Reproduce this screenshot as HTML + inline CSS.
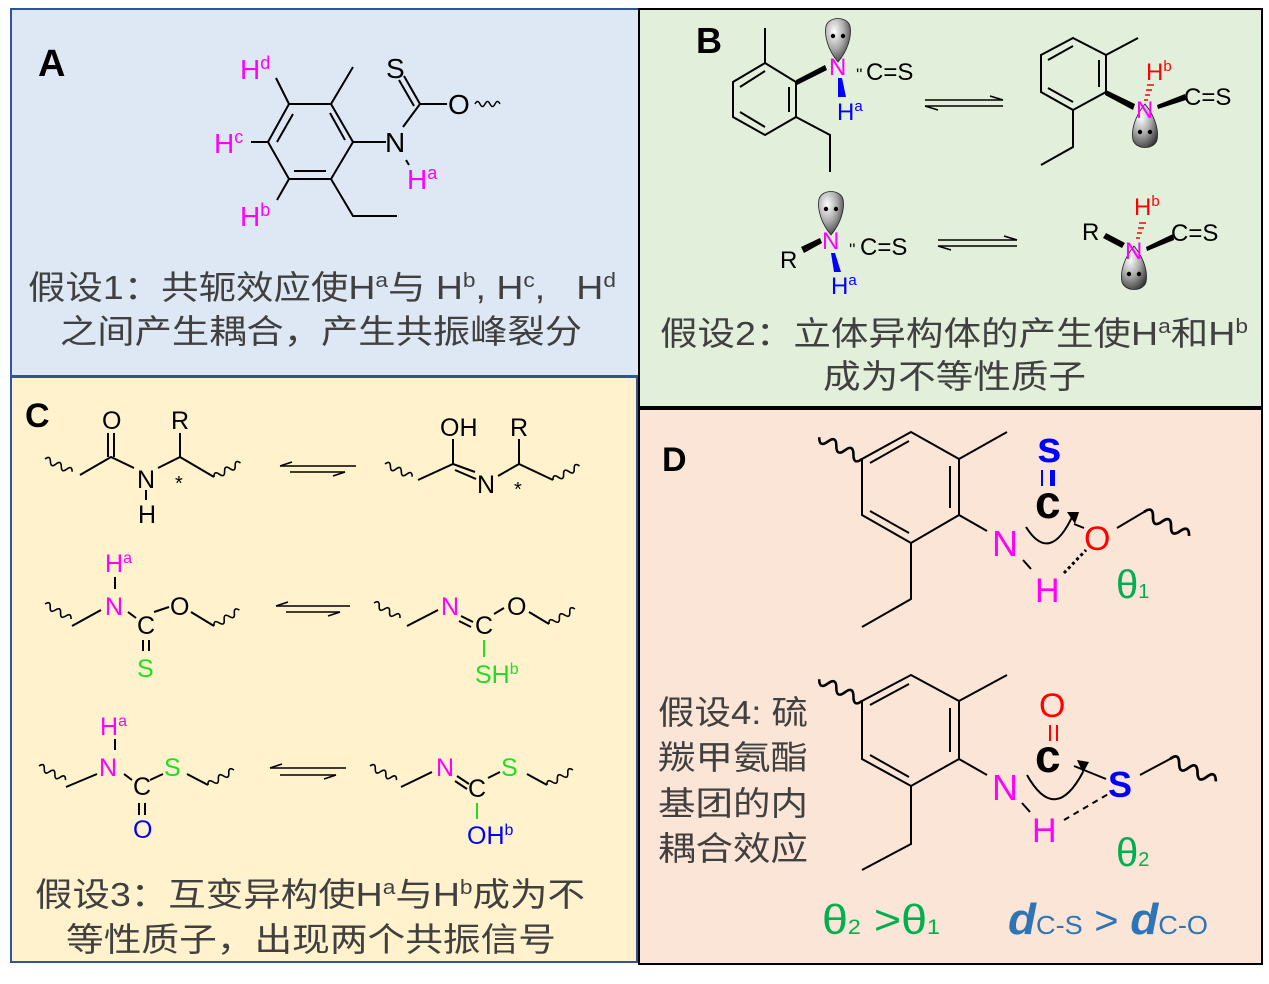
<!DOCTYPE html>
<html><head><meta charset="utf-8"><style>
html,body{margin:0;padding:0;background:#fff;}
svg{display:block;font-family:"Liberation Sans","Noto Sans CJK SC",sans-serif;}
.b{stroke:#000;stroke-width:2;fill:none;}
.t{fill:#404040;font-size:33px;}
</style></head><body>
<svg width="1269" height="984" viewBox="0 0 1269 984" xmlns="http://www.w3.org/2000/svg">
<defs>
<radialGradient id="lg" cx="0.35" cy="0.3" r="0.8">
<stop offset="0" stop-color="#fff"/><stop offset="0.5" stop-color="#aaa"/><stop offset="1" stop-color="#333"/>
</radialGradient>
<g id="lobeU"><path d="M0,0 C-10,-12 -14,-26 -12,-36 C-9,-46 9,-46 12,-36 C14,-26 10,-12 0,0Z" fill="url(#lg)" stroke="#222" stroke-width="0.8"/><circle cx="-5" cy="-26" r="2.2" fill="#000"/><circle cx="5" cy="-26" r="2.2" fill="#000"/></g>
<g id="lobeD"><path d="M0,0 C-10,12 -14,26 -12,36 C-9,46 9,46 12,36 C14,26 10,12 0,0Z" fill="url(#lg)" stroke="#222" stroke-width="0.8"/><circle cx="-5" cy="28" r="2.2" fill="#000"/><circle cx="5" cy="28" r="2.2" fill="#000"/></g>
<path id="wv" d="M0,0 q3,-6 6,0 t6,0 t6,0 t6,0 t6,0" fill="none" stroke="#000" stroke-width="1.6"/>
</defs>

<rect x="11" y="9" width="629" height="367" fill="#dee8f4" stroke="#2f5597" stroke-width="2"/>
<rect x="639" y="9" width="623" height="398" fill="#e2efda" stroke="#000" stroke-width="2"/>
<rect x="11" y="377" width="626" height="585" fill="#fff2cc" stroke="#2f5597" stroke-width="2"/>
<rect x="639" y="409" width="623" height="555" fill="#fbe5d6" stroke="#000" stroke-width="2"/>

<!-- ===== A ===== -->
<text x="38" y="76" font-size="38" font-weight="bold">A</text>
<g class="b">
<polygon points="289,104 331,104 353,142 331,179 289,179 268,142"/>
<line x1="330" y1="113" x2="345" y2="140"/>
<line x1="294" y1="171" x2="326" y2="171"/>
<line x1="277" y1="142" x2="293" y2="114"/>
<line x1="331" y1="104" x2="353" y2="67"/>
<line x1="289" y1="104" x2="276" y2="78"/>
<line x1="268" y1="142" x2="251" y2="142"/>
<line x1="289" y1="179" x2="277" y2="200"/>
<polyline points="331,179 353,216 397,216"/>
<line x1="353" y1="142" x2="386" y2="142"/>
<line x1="403" y1="127" x2="420" y2="104"/>
<line x1="420" y1="104" x2="404" y2="76"/>
<line x1="414" y1="106" x2="399" y2="80"/>
<line x1="420" y1="104" x2="447" y2="104"/>
<line x1="406" y1="160" x2="409" y2="165"/>
</g>
<g font-size="28" fill="#ff00ff">
<text x="240" y="79">H<tspan font-size="18" dy="-10">d</tspan></text>
<text x="214" y="153">H<tspan font-size="18" dy="-10">c</tspan></text>
<text x="240" y="226">H<tspan font-size="18" dy="-10">b</tspan></text>
<text x="407" y="189">H<tspan font-size="18" dy="-10">a</tspan></text>
</g>
<g font-size="28" fill="#000">
<text x="385" y="152">N</text>
<text x="386" y="78">S</text>
<text x="448" y="114">O</text>
</g>
<path d="M475,104 q2.5,-5 5,0 t5,0 t5,0 t5,0 t5,0" fill="none" stroke="#000" stroke-width="1.4"/>
<text class="t" x="28" y="299" textLength="588" lengthAdjust="spacingAndGlyphs">假设1：共轭效应使H<tspan font-size="20" dy="-12">a</tspan><tspan dy="12">与 H</tspan><tspan font-size="20" dy="-12">b</tspan><tspan dy="12">, H</tspan><tspan font-size="20" dy="-12">c</tspan><tspan dy="12">,&#160;&#160;&#160;H</tspan><tspan font-size="20" dy="-12">d</tspan></text>
<text class="t" x="60" y="343" textLength="522" lengthAdjust="spacingAndGlyphs">之间产生耦合，产生共振峰裂分</text>

<!-- ===== B ===== -->
<text x="696" y="53" font-size="36" font-weight="bold">B</text>
<g class="b" stroke-width="1.8">
<polygon points="765,63 796,82 796,117 765,135 733,117 733,82"/>
<line x1="789" y1="87" x2="789" y2="112"/>
<line x1="765" y1="127" x2="740" y2="112"/>
<line x1="740" y1="87" x2="765" y2="71"/>
<line x1="765" y1="63" x2="765" y2="28"/>
<polyline points="796,117 830,135 830,172"/>
<polygon points="1073,38 1106,55 1106,92 1073,110 1041,92 1041,55"/>
<line x1="1099" y1="60" x2="1099" y2="87"/>
<line x1="1048" y1="60" x2="1073" y2="46"/>
<line x1="1048" y1="88" x2="1073" y2="102"/>
<line x1="1106" y1="55" x2="1138" y2="38"/>
<polyline points="1073,110 1073,147 1041,165"/>
</g>
<polygon points="796,80 797,85 827,70 825,65" fill="#000"/>
<polygon points="1106,90 1105,95 1133,110 1135,104" fill="#000"/>
<g stroke="#000" stroke-width="1.6" fill="none">
<line x1="925" y1="100" x2="1003" y2="100"/><path d="M990,96 L1003,100"/>
<line x1="925" y1="106" x2="1003" y2="106"/><path d="M925,106 L938,110"/>
<line x1="938" y1="240" x2="1017" y2="240"/><path d="M1004,236 L1017,240"/>
<line x1="938" y1="246" x2="1017" y2="246"/><path d="M938,246 L951,250"/>
</g>
<use href="#lobeU" x="838" y="62"/>
<text x="829" y="75" font-size="24" fill="#ff00ff">N</text>
<text x="856" y="80" font-size="17" fill="#000">''</text>
<text x="866" y="80" font-size="24" fill="#000">C=S</text>
<polygon points="838,78 842,78 846,97 838,97" fill="#0000ff"/>
<text x="837" y="120" font-size="24" fill="#0000ff">H<tspan font-size="15" dy="-9">a</tspan></text>
<use href="#lobeD" x="1145" y="104"/>
<text x="1136" y="118" font-size="24" fill="#ff00ff">N</text>
<g stroke="#ff0000" stroke-width="1.5"><line x1="1144" y1="100" x2="1148" y2="100"/><line x1="1145" y1="95" x2="1150" y2="95"/><line x1="1146" y1="90" x2="1152" y2="90"/><line x1="1147" y1="85" x2="1154" y2="85"/></g>
<text x="1146" y="80" font-size="24" fill="#ff0000">H<tspan font-size="15" dy="-9">b</tspan></text>
<polygon points="1157,105 1185,94 1186,100 1158,109" fill="#000"/>
<text x="1184" y="105" font-size="24" fill="#000">C=S</text>
<use href="#lobeU" x="831" y="235"/>
<text x="822" y="249" font-size="24" fill="#ff00ff">N</text>
<text x="849" y="255" font-size="17" fill="#000">''</text>
<text x="860" y="255" font-size="24" fill="#000">C=S</text>
<polygon points="801,247 804,253 822,243 820,238" fill="#000"/>
<text x="780" y="268" font-size="24" fill="#000">R</text>
<polygon points="831,253 835,253 841,272 834,272" fill="#0000ff"/>
<text x="831" y="294" font-size="24" fill="#0000ff">H<tspan font-size="15" dy="-9">a</tspan></text>
<use href="#lobeD" x="1134" y="246"/>
<text x="1125" y="259" font-size="24" fill="#ff00ff">N</text>
<polygon points="1103,238 1106,233 1125,243 1122,248" fill="#000"/>
<text x="1082" y="240" font-size="24" fill="#000">R</text>
<g stroke="#ff0000" stroke-width="1.5"><line x1="1136" y1="238" x2="1140" y2="238"/><line x1="1137" y1="233" x2="1142" y2="233"/><line x1="1138" y1="228" x2="1144" y2="228"/><line x1="1139" y1="223" x2="1146" y2="223"/></g>
<text x="1134" y="215" font-size="24" fill="#ff0000">H<tspan font-size="15" dy="-9">b</tspan></text>
<polygon points="1146,247 1173,234 1174,240 1147,251" fill="#000"/>
<text x="1171" y="241" font-size="24" fill="#000">C=S</text>
<text class="t" x="660" y="345" textLength="588" lengthAdjust="spacingAndGlyphs">假设2：立体异构体的产生使H<tspan font-size="20" dy="-12">a</tspan><tspan dy="12">和H</tspan><tspan font-size="20" dy="-12">b</tspan></text>
<text class="t" x="823" y="388" textLength="263" lengthAdjust="spacingAndGlyphs">成为不等性质子</text>

<!-- ===== C ===== -->
<text x="25" y="427" font-size="34" font-weight="bold">C</text>
<g class="b" stroke-width="1.6">
<polyline points="80,475 111,457 134,468"/>
<line x1="108" y1="457" x2="108" y2="433"/><line x1="114" y1="457" x2="114" y2="433"/>
<line x1="146" y1="490" x2="146" y2="500"/>
<polyline points="158,468 180,457 214,477"/>
<line x1="180" y1="457" x2="180" y2="433"/>
<polyline points="418,480 453,464 475,472"/>
<line x1="455" y1="470" x2="476" y2="479"/>
<line x1="453" y1="464" x2="453" y2="439"/>
<polyline points="498,476 519,464 553,480"/>
<line x1="519" y1="464" x2="519" y2="439"/>
<line x1="72" y1="626" x2="101" y2="610"/>
<line x1="115" y1="577" x2="115" y2="589"/>
<line x1="128" y1="612" x2="136" y2="618"/>
<line x1="143" y1="640" x2="143" y2="651"/><line x1="149" y1="640" x2="149" y2="651"/>
<line x1="154" y1="612" x2="169" y2="607"/>
<line x1="191" y1="612" x2="214" y2="626"/>
<line x1="407" y1="626" x2="438" y2="610"/>
<line x1="461" y1="616" x2="473" y2="622"/><line x1="459" y1="621" x2="471" y2="627"/>
<line x1="494" y1="614" x2="504" y2="608"/>
<line x1="529" y1="612" x2="549" y2="624"/>
<line x1="484" y1="640" x2="484" y2="657" stroke="#22dd22"/>
<line x1="66" y1="787" x2="97" y2="774"/>
<line x1="115" y1="739" x2="115" y2="750"/>
<line x1="124" y1="774" x2="132" y2="780"/>
<line x1="139" y1="803" x2="139" y2="815"/><line x1="145" y1="803" x2="145" y2="815"/>
<line x1="150" y1="780" x2="163" y2="774"/>
<line x1="187" y1="774" x2="208" y2="785"/>
<line x1="401" y1="787" x2="432" y2="772"/>
<line x1="457" y1="776" x2="469" y2="784"/><line x1="455" y1="781" x2="467" y2="789"/>
<line x1="488" y1="778" x2="500" y2="772"/>
<line x1="527" y1="774" x2="547" y2="785"/>
<line x1="477" y1="803" x2="477" y2="819" stroke="#22dd22"/>
</g>
<g font-size="25" fill="#000">
<text x="102" y="429">O</text><text x="137" y="488">N</text><text x="138" y="523">H</text>
<text x="171" y="429">R</text><text x="175" y="490" font-size="20">*</text>
<text x="440" y="436">OH</text><text x="477" y="493">N</text>
<text x="510" y="436">R</text><text x="514" y="496" font-size="20">*</text>
<text x="137" y="634">C</text><text x="170" y="615">O</text>
<text x="475" y="634">C</text><text x="507" y="615">O</text>
<text x="133" y="795">C</text><text x="468" y="797">C</text>
</g>
<g font-size="25">
<text x="105" y="572" fill="#ff00ff">H<tspan font-size="16" dy="-9">a</tspan></text>
<text x="105" y="615" fill="#ff00ff">N</text>
<text x="137" y="677" fill="#22dd22">S</text>
<text x="441" y="615" fill="#ff00ff">N</text>
<text x="475" y="683" fill="#22dd22">SH<tspan font-size="16" dy="-9">b</tspan></text>
<text x="100" y="735" fill="#ff00ff">H<tspan font-size="16" dy="-9">a</tspan></text>
<text x="99" y="776" fill="#ff00ff">N</text>
<text x="164" y="776" fill="#22dd22">S</text>
<text x="133" y="838" fill="#0000ff">O</text>
<text x="436" y="776" fill="#ff00ff">N</text>
<text x="501" y="776" fill="#22dd22">S</text>
<text x="467" y="844" fill="#0000ff">OH<tspan font-size="16" dy="-9">b</tspan></text>
</g>
<use href="#wv" transform="translate(45,459) rotate(25)"/>
<use href="#wv" transform="translate(214,477) rotate(-28)"/>
<use href="#wv" transform="translate(385,464) rotate(25)"/>
<use href="#wv" transform="translate(553,480) rotate(-28)"/>
<use href="#wv" transform="translate(45,604) rotate(30)"/>
<use href="#wv" transform="translate(214,626) rotate(-32)"/>
<use href="#wv" transform="translate(374,603) rotate(30)"/>
<use href="#wv" transform="translate(549,624) rotate(-30)"/>
<use href="#wv" transform="translate(39,766) rotate(28)"/>
<use href="#wv" transform="translate(208,785) rotate(-30)"/>
<use href="#wv" transform="translate(370,766) rotate(28)"/>
<use href="#wv" transform="translate(547,785) rotate(-30)"/>
<g stroke="#000" stroke-width="1.6" fill="none">
<line x1="280" y1="466" x2="356" y2="466"/><path d="M280,466 L292,462"/>
<line x1="290" y1="472" x2="345" y2="472"/><path d="M345,472 L333,476"/>
<line x1="276" y1="606" x2="350" y2="606"/><path d="M276,606 L288,602"/>
<line x1="286" y1="612" x2="340" y2="612"/><path d="M340,612 L328,616"/>
<line x1="270" y1="768" x2="346" y2="768"/><path d="M270,768 L282,764"/>
<line x1="280" y1="775" x2="336" y2="775"/><path d="M336,775 L324,779"/>
</g>
<text class="t" x="35" y="906" textLength="550" lengthAdjust="spacingAndGlyphs">假设3：互变异构使H<tspan font-size="20" dy="-12">a</tspan><tspan dy="12">与H</tspan><tspan font-size="20" dy="-12">b</tspan><tspan dy="12">成为不</tspan></text>
<text class="t" x="66" y="951" textLength="490" lengthAdjust="spacingAndGlyphs">等性质子，出现两个共振信号</text>

<!-- ===== D ===== -->
<text x="662" y="471" font-size="34" font-weight="bold">D</text>
<g class="b" stroke-width="2.2">
<polygon points="911,432 959,459 959,515 911,543 862,515 862,459"/>
<line x1="950" y1="466" x2="950" y2="508"/>
<line x1="870" y1="463" x2="909" y2="441"/>
<line x1="870" y1="511" x2="909" y2="533"/>
<line x1="959" y1="459" x2="1007" y2="432"/>
<polyline points="911,543 911,599 862,627"/>
<line x1="959" y1="515" x2="987" y2="531"/>
<line x1="1074" y1="524" x2="1084" y2="528"/>
<line x1="1117" y1="528" x2="1144" y2="512"/>
<polygon points="911,675 959,701 959,759 911,786 862,759 862,701"/>
<line x1="950" y1="708" x2="950" y2="752"/>
<line x1="870" y1="705" x2="909" y2="684"/>
<line x1="870" y1="755" x2="909" y2="777"/>
<line x1="959" y1="701" x2="1007" y2="675"/>
<polyline points="911,786 911,844 862,870"/>
<line x1="959" y1="759" x2="987" y2="775"/>
<line x1="1074" y1="766" x2="1106" y2="779"/>
<line x1="1140" y1="775" x2="1170" y2="759"/>
</g>
<use href="#wv" transform="translate(862,459) rotate(-153) scale(1.6)"/>
<use href="#wv" transform="translate(1144,512) rotate(28) scale(1.7)"/>
<use href="#wv" transform="translate(862,701) rotate(-153) scale(1.6)"/>
<use href="#wv" transform="translate(1170,759) rotate(26) scale(1.7)"/>
<g stroke="#000" stroke-width="2" fill="none">
<line x1="1023" y1="560" x2="1031" y2="569"/>
<path d="M1064,573 L1086,550" stroke-dasharray="3,3" stroke-width="3"/>
<path d="M1026,527 Q1050,565 1073,515"/>
<line x1="1022" y1="803" x2="1030" y2="812"/>
<path d="M1064,820 L1110,793" stroke-dasharray="6,5"/>
<path d="M1027,775 Q1055,825 1083,772"/>
</g>
<polygon points="1067,512 1079,512 1075,524" fill="#000"/>
<polygon points="1077,760 1089,762 1083,773" fill="#000"/>
<text x="992" y="556" font-size="36" fill="#ff00ff">N</text>
<text x="1035" y="602" font-size="34" fill="#ff00ff">H</text>
<text x="1037" y="462" font-size="44" font-weight="bold" fill="#0000ff">s</text>
<rect x="1041" y="470" width="2" height="16" fill="#0000ff"/><rect x="1050" y="470" width="5" height="16" fill="#0000ff"/>
<text x="1035" y="518" font-size="46" font-weight="bold" fill="#000">c</text>
<text x="1084" y="550" font-size="34" fill="#ff0000">O</text>
<text x="1116" y="598" font-size="40" fill="#00b050">θ<tspan font-size="20">1</tspan></text>
<text x="992" y="800" font-size="36" fill="#ff00ff">N</text>
<text x="1032" y="842" font-size="34" fill="#ff00ff">H</text>
<text x="1039" y="717" font-size="34" fill="#ff0000">O</text>
<rect x="1049" y="725" width="2" height="16" fill="#ff0000"/><rect x="1056" y="725" width="2" height="16" fill="#ff0000"/>
<text x="1035" y="772" font-size="46" font-weight="bold" fill="#000">c</text>
<text x="1108" y="797" font-size="36" font-weight="bold" fill="#0000ff">S</text>
<text x="1116" y="866" font-size="40" fill="#00b050">θ<tspan font-size="20">2</tspan></text>
<text x="822" y="934" font-size="42" fill="#00b050" textLength="118" lengthAdjust="spacingAndGlyphs">θ<tspan font-size="21">2</tspan><tspan> &gt;θ</tspan><tspan font-size="21">1</tspan></text>
<text x="1008" y="934" font-size="40" fill="#2e75b6" textLength="200" lengthAdjust="spacingAndGlyphs"><tspan font-style="italic" font-weight="bold" font-size="44">d</tspan><tspan font-size="26">C-S</tspan><tspan> &gt; </tspan><tspan font-style="italic" font-weight="bold" font-size="44">d</tspan><tspan font-size="26">C-O</tspan></text>
<g class="t" font-size="36">
<text x="658" y="724" textLength="150" lengthAdjust="spacingAndGlyphs">假设4: 硫</text>
<text x="658" y="769" textLength="150" lengthAdjust="spacingAndGlyphs">羰甲氨酯</text>
<text x="658" y="815" textLength="150" lengthAdjust="spacingAndGlyphs">基团的内</text>
<text x="658" y="860" textLength="150" lengthAdjust="spacingAndGlyphs">耦合效应</text>
</g>
</svg>
</body></html>
